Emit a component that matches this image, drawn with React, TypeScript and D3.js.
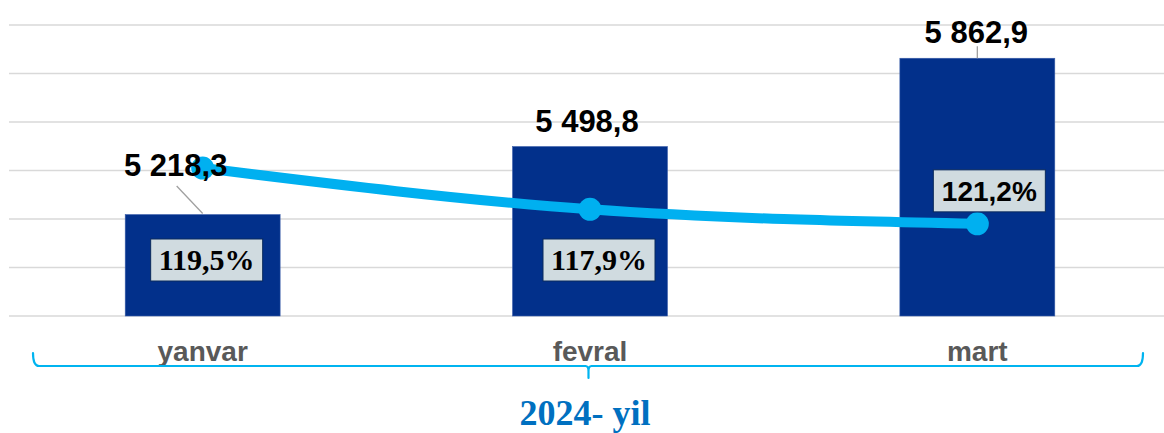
import React from 'react'
import { scaleBand, scaleLinear, line, curveMonotoneX } from 'd3'

const months = ['yanvar', 'fevral', 'mart']
const volumes = [5218.3, 5498.8, 5862.9]
const volumeLabels = ['5 218,3', '5 498,8', '5 862,9']
const growth = [119.5, 117.9, 121.2]
const growthLabels = ['119,5%', '117,9%', '121,2%']
// the smoothed line sits on a hidden secondary axis
const trend = [106.1, 104.4, 103.8]
const gridTicks = [4800, 5000, 5200, 5400, 5600, 5800, 6000]
const yearTitle = '2024- yil'

const W = 1164
const H = 433

const App = () => {
    const x = scaleBand()
        .domain(months)
        .range([9, 1171])
        .paddingInner(0.6)
        .paddingOuter(0.3)

    const y = scaleLinear().domain([4800, 6000]).range([316, 25])
    const y2 = scaleLinear().domain([100, 112]).range([316, 25])

    const cx = (m) => x(m) + x.bandwidth() / 2
    const base = y(4800)

    const trendPts = months.map((m, i) => [cx(m), y2(trend[i])])
    const trendPath = line().curve(curveMonotoneX)(trendPts)

    const left = 33, right = 1143, mid = (left + right) / 2 + 0.5
    const by = 366
    const bracket = `M${left},353 Q${left},${by} ${left + 6},${by} L${mid - 3},${by} Q${mid},${by} ${mid},${by + 5} L${mid},378 M${mid},${by + 5} Q${mid},${by} ${mid + 3},${by} L${right - 6},${by} Q${right},${by} ${right},353`

    return (
        <svg width={W} height={H} style={{ position: 'absolute', left: 0, top: 0, background: 'white' }}>
            {/* gridlines */}
            {gridTicks.map(t => (
                <line key={t} x1={9} x2={1171} y1={y(t)} y2={y(t)} stroke='#d9d9d9' strokeWidth={1.6} />
            ))}

            {/* bars */}
            {months.map((m, i) => (
                <rect key={m} x={x(m)} y={y(volumes[i])} width={x.bandwidth()} height={base - y(volumes[i])}
                    fill='#02308b' stroke='#3b5eaa' strokeWidth={0.6} />
            ))}

            {/* leader lines */}
            <line x1={cx(months[0]) - 26} y1={186} x2={cx(months[0])} y2={y(volumes[0]) - 1} stroke='#a0a0a0' strokeWidth={1.3} />
            <line x1={cx(months[2])} y1={y(volumes[2]) - 12} x2={cx(months[2])} y2={y(volumes[2])} stroke='#a0a0a0' strokeWidth={1.3} />

            {/* trend line */}
            <path d={trendPath} fill='none' stroke='#00b0f0' strokeWidth={10} strokeLinecap='round' />
            {trendPts.map((p, i) => (
                <circle key={i} cx={p[0]} cy={p[1]} r={11.5} fill='#00b0f0' />
            ))}

            {/* value labels */}
            {months.map((m, i) => {
                const lx = i === 0 ? cx(m) - 27 : cx(m) - 5 + i * 2
                const ly = i === 0 ? y(volumes[i]) - 39 : y(volumes[i]) - 15
                return (
                    <text key={m} x={lx} y={ly} textAnchor='middle' fontFamily='Liberation Sans, Arial, sans-serif'
                        fontWeight='bold' fontSize={31} fill='#000'>{volumeLabels[i]}</text>
                )
            })}

            {/* growth boxes */}
            {months.map((m, i) => {
                const above = growth[i] > 121
                const bx = cx(m) + (i === 0 ? 4 : i === 1 ? 9 : 12)
                const byc = above ? trendPts[i][1] - 33 : base - 56
                const serif = !above
                return (
                    <g key={m}>
                        <rect x={bx - 56} y={byc - 21} width={112} height={42} fill='#d0dbe0' stroke='#0b2a5c' strokeWidth={1} />
                        <text x={bx} y={byc + 10} textAnchor='middle'
                            fontFamily={serif ? 'Liberation Serif, Times New Roman, serif' : 'Liberation Sans, Arial, sans-serif'}
                            fontWeight='bold' fontSize={serif ? 30 : 28} fill='#000'>{growthLabels[i]}</text>
                    </g>
                )
            })}

            {/* category labels */}
            {months.map(m => (
                <text key={m} x={cx(m)} y={361} textAnchor='middle' fontFamily='Liberation Sans, Arial, sans-serif'
                    fontWeight='bold' fontSize={28} fill='#595959'>{m}</text>
            ))}

            {/* bracket */}
            <path d={bracket} fill='none' stroke='#00b4f0' strokeWidth={2.2} strokeLinecap='round' />

            <text x={585} y={425} textAnchor='middle' fontFamily='Liberation Serif, Times New Roman, serif'
                fontWeight='bold' fontSize={36} fill='#0070c0'>{yearTitle}</text>
        </svg>
    )
}

export default App
